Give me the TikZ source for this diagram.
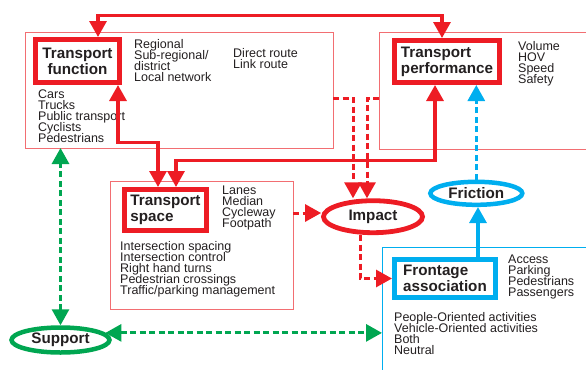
\documentclass[tikz,border=0pt]{standalone}
\usepackage{fontspec}
\setmainfont{Liberation Sans}
\usetikzlibrary{arrows.meta,shapes.geometric}

\definecolor{cred}{RGB}{237,28,36}
\definecolor{cblue}{RGB}{0,174,239}
\definecolor{cgreen}{RGB}{0,166,81}
\definecolor{ctext}{RGB}{35,31,32}
\definecolor{cframe}{RGB}{242,110,114}

\newcommand\listfont{\fontsize{12.5}{11}\selectfont\lineskiplimit=-20pt\lineskip=0pt}
\newcommand\titlefont{\fontsize{15.2}{16.3}\selectfont\bfseries\lineskiplimit=-20pt\lineskip=0pt}

\tikzset{
  bigtip/.tip={Triangle[length=16pt,width=17pt]},
  listtext/.style={anchor=north west, inner sep=0pt, align=left, font=\listfont, text=ctext},
  keybox/.style={draw=#1, line width=5pt, inner sep=0pt, align=left, font=\titlefont, text=ctext},
  framebox/.style={draw=#1, line width=1pt, inner sep=0pt, outer sep=0pt},
  oval/.style={ellipse, draw=#1, line width=4.8pt, inner sep=0pt, font=\titlefont, text=ctext},
  solidlink/.style={draw=#1, line width=3.2pt},
  dashlink/.style={draw=#1, line width=3pt, dash pattern=on 6pt off 3.5pt},
}

\begin{document}
\begin{tikzpicture}[x=1pt,y=-1pt]
\useasboundingbox (0,0) rectangle (586,370);

% outer frames
\node[framebox=cframe, minimum width=308pt, minimum height=116pt] (funcout) at (179,90) {};
\node[framebox=cframe, minimum width=183pt, minimum height=128pt] (spaceout) at (201.5,245) {};
\node[inner sep=0pt, outer sep=0pt, minimum width=207pt, minimum height=117pt] (perfout) at (482.5,90.5) {};
\draw[cframe, line width=1pt] (perfout.north east) -- (perfout.north west) -- (perfout.south west) -- (perfout.south east);
\node[inner sep=0pt, outer sep=0pt, minimum width=204pt, minimum height=123pt] (frontout) at (484,308.5) {};
\draw[cblue, line width=1pt] (frontout.north east) -- (frontout.north west) -- (frontout.south west);

% key boxes
\node[keybox=cred, align=center, minimum width=84pt, minimum height=43pt] (func) at (77.5,61) {Transport\\function};
\node[keybox=cred, minimum width=105pt, minimum height=42pt] (perf) at (447,61.5) {Transport\\performance};
\node[keybox=cred, minimum width=82pt, minimum height=41pt] (space) at (165.5,210) {Transport\\space};
\node[keybox=cblue, minimum width=101pt, minimum height=38pt] (front) at (445,278.5) {Frontage\\association};

% ovals
\node[oval=cred, minimum width=99pt, minimum height=32pt] (impact) at (373,216.7) {Impact};
\node[oval=cblue, line width=4.5pt, minimum width=92pt, minimum height=23pt] (friction) at (476.3,193.3) {Friction};
\node[oval=cgreen, line width=4.5pt, minimum width=98pt, minimum height=25pt] (support) at (60.5,340) {Support};

% lists
\node[listtext] (funcclass) at (134,39.4) {Regional\\Sub-regional/\\district\\Local network};
\node[listtext] (funcroute) at (233,47.8) {Direct route\\Link route};
\node[listtext] (funcusers) at (38,90) {Cars\\Trucks\\Public transport\\Cyclists\\Pedestrians};
\node[listtext] (perfmeasures) at (518,41.6) {Volume\\HOV\\Speed\\Safety};
\node[listtext] (spaceparts) at (222,186.1) {Lanes\\Median\\Cycleway\\Footpath};
\node[listtext] (spacecontrol) at (120,241.1) {Intersection spacing\\Intersection control\\Right hand turns\\Pedestrian crossings\\Traffic/parking management};
\node[listtext] (frontuses) at (508,254.4) {Access\\Parking\\Pedestrians\\Passengers};
\node[listtext] (frontkinds) at (394,311.8) {People-Oriented activities\\Vehicle-Oriented activities\\Both\\Neutral};

% solid red links
\draw[solidlink=cred, bigtip-bigtip] ([xshift=-5pt]perf.north) -- ++(0,-22.5) -| ([xshift=20.5pt]func.north);
\draw[solidlink=cred, bigtip-bigtip] ([xshift=40.5pt]func.south) -- ++(0,57.5) -| ([xshift=-7.5pt]space.north);
\draw[solidlink=cred, bigtip-bigtip] ([xshift=-12pt]perf.south) -- ++(0,75.5) -| ([xshift=10.5pt]space.north);

% dashed red links into and out of the impact oval
\draw[dashlink=cred, -bigtip] ([yshift=-8pt]funcout.east) -| ([xshift=-20pt]impact.north);
\draw[dashlink=cred, -bigtip] ([yshift=-7.5pt]perfout.west) -| ([xshift=-6pt]impact.north);
\draw[dashlink=cred, -bigtip] ([yshift=32pt]spaceout.east) -- ([yshift=32pt]spaceout.east -| impact.west);
\draw[dashlink=cred, -bigtip] ([xshift=-13pt]impact.south) |- (front.west);

% blue links
\draw[solidlink=cblue, -bigtip] ([xshift=33pt]front.north) -- ([xshift=33pt]front.north |- friction.south);
\draw[dashlink=cblue, -bigtip] (friction.north) -- (friction.north |- perf.south);

% green links
\draw[dashlink=cgreen, bigtip-bigtip] (support.north) -- (support.north |- funcout.south);
\draw[dashlink=cgreen, bigtip-bigtip] (support.9) -- (support.9 -| frontout.west);
\end{tikzpicture}
\end{document}
